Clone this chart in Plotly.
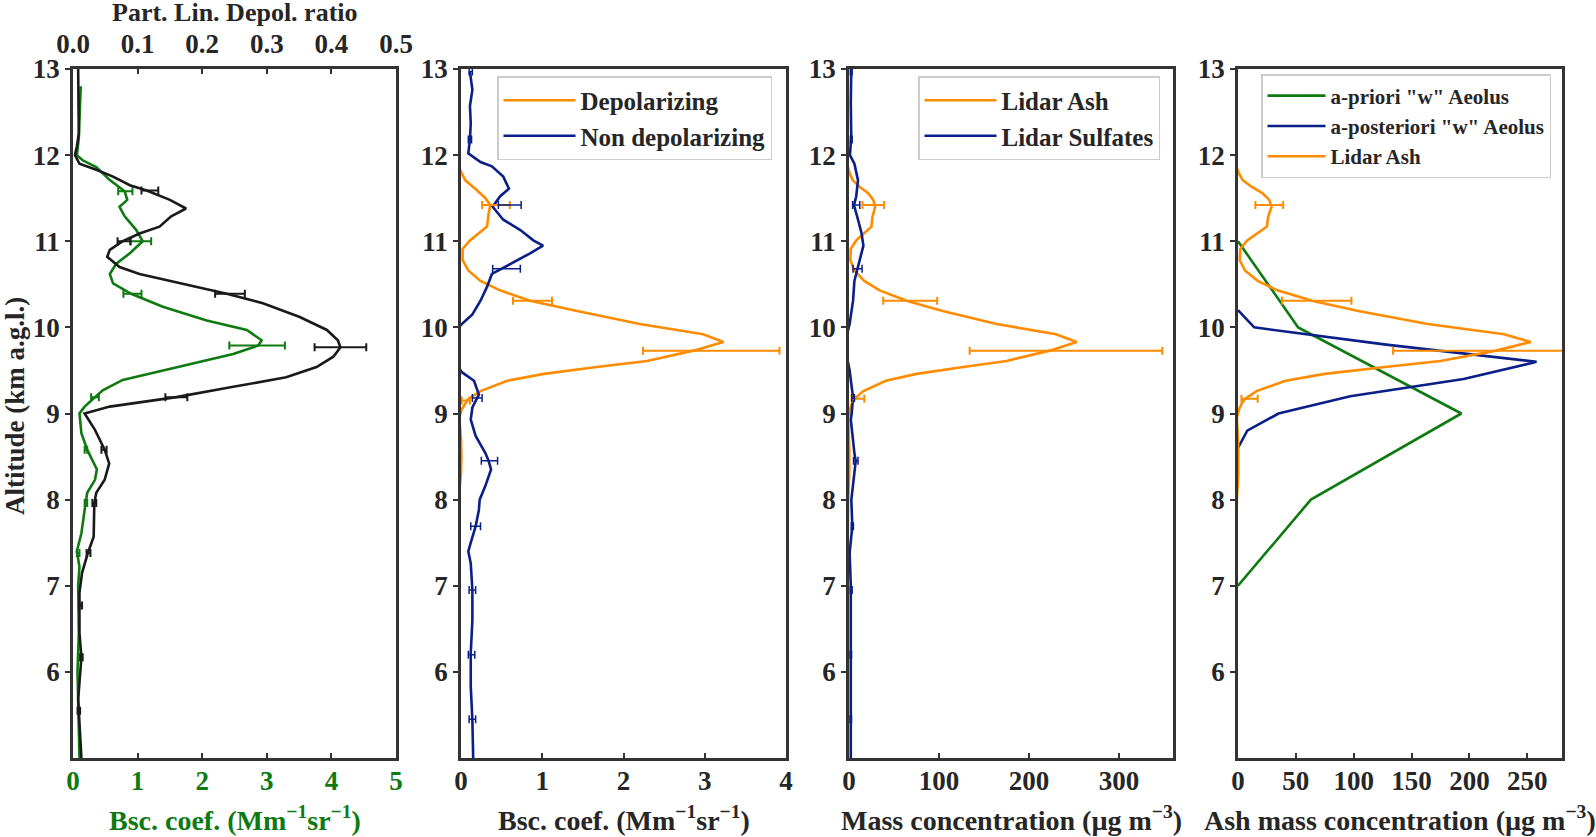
import plotly.graph_objects as go

# ---- panel 1: backscatter (green, bottom axis) and depol ratio (black, top axis)
bsc_alt = [12.8, 12.5, 12.2, 12.0, 11.94, 11.86, 11.71, 11.58, 11.48, 11.4, 11.29, 11.13, 11.0,
           10.86, 10.74, 10.62, 10.51, 10.39, 10.24, 10.08, 9.97, 9.85, 9.79, 9.69, 9.58, 9.46,
           9.39, 9.27, 9.19, 9.08, 9.0, 8.77, 8.58, 8.35, 8.23, 8.08, 7.88, 7.61, 7.4, 7.22, 7.0,
           6.45, 6.0, 5.48, 5.0]
bsc_val = [0.12, 0.1, 0.09, 0.06, 0.15, 0.36, 0.57, 0.8, 0.84, 0.72, 0.8, 0.98, 1.08,
           0.88, 0.67, 0.57, 0.62, 0.9, 1.39, 2.07, 2.69, 2.92, 2.87, 2.48, 1.86, 1.19,
           0.77, 0.46, 0.34, 0.18, 0.1, 0.13, 0.22, 0.37, 0.34, 0.22, 0.18, 0.13, 0.06, 0.1, 0.08,
           0.09, 0.07, 0.09, 0.1]
bsc_err_alt = [11.58, 11.0, 10.39, 9.79, 9.19, 8.58, 7.96, 7.38]
bsc_err_val = [0.81, 1.05, 0.92, 2.85, 0.34, 0.2, 0.2, 0.08]
bsc_err = [0.11, 0.16, 0.14, 0.43, 0.06, 0.02, 0.02, 0.02]

pldr_alt = [13.0, 12.64, 12.25, 12.1, 12.0, 11.9, 11.83, 11.75, 11.65, 11.59, 11.48, 11.38, 11.29,
            11.17, 11.09, 11.0, 10.9, 10.82, 10.7, 10.62, 10.51, 10.39, 10.28, 10.12, 9.97, 9.85,
            9.77, 9.66, 9.54, 9.42, 9.31, 9.19, 9.08, 9.0, 8.81, 8.58, 8.42, 8.23, 8.08, 7.96,
            7.57, 7.38, 7.15, 6.92, 6.45, 6.17, 5.68, 5.0]
pldr_val = [0.008, 0.009, 0.009, 0.006, 0.003, 0.01, 0.036, 0.062, 0.088, 0.114, 0.15, 0.175, 0.152,
            0.134, 0.103, 0.077, 0.057, 0.053, 0.072, 0.103, 0.17, 0.238, 0.294, 0.351, 0.393, 0.41,
            0.414, 0.403, 0.377, 0.33, 0.248, 0.16, 0.057, 0.018, 0.034, 0.049, 0.056, 0.049, 0.036,
            0.033, 0.032, 0.023, 0.014, 0.01, 0.01, 0.013, 0.008, 0.013]
pldr_err_alt = [11.59, 11.0, 10.39, 9.77, 9.19, 8.58, 7.96, 7.38, 6.77, 6.17, 5.55]
pldr_err_val = [0.119, 0.079, 0.243, 0.414, 0.16, 0.048, 0.033, 0.024, 0.012, 0.013, 0.009]
pldr_err = [0.013, 0.01, 0.023, 0.04, 0.017, 0.004, 0.003, 0.003, 0.002, 0.002, 0.002]

# ---- panel 2: depolarizing / non depolarizing backscatter
dep_alt = [13.0, 12.0, 11.85, 11.79, 11.71, 11.59, 11.5, 11.42, 11.32, 11.17, 11.01, 10.91, 10.78,
           10.66, 10.54, 10.43, 10.31, 10.19, 10.04, 9.92, 9.83, 9.73, 9.61, 9.54, 9.46, 9.38,
           9.26, 9.17, 9.05, 8.95, 8.7, 8.5, 8.3, 8.1, 5.0]
dep_val = [-0.05, -0.05, -0.02, 0.01, 0.05, 0.2, 0.3, 0.36, 0.34, 0.32, 0.11, 0.02, 0.02,
           0.09, 0.24, 0.48, 0.85, 1.43, 2.2, 2.98, 3.23, 2.86, 2.29, 1.67, 1.02, 0.57,
           0.24, 0.09, 0.01, -0.02, 0.0, 0.005, 0.0, -0.02, -0.05]
dep_err_alt = [11.42, 10.31, 9.73, 9.15]
dep_err_val = [0.43, 0.88, 3.08, 0.06]
dep_err = [0.17, 0.24, 0.84, 0.05]

non_alt = [12.97, 12.76, 12.57, 12.37, 12.18, 12.02, 11.92, 11.87, 11.75, 11.61, 11.52, 11.4, 11.25,
           11.13, 11.01, 10.95, 10.86, 10.76, 10.62, 10.47, 10.31, 10.15, 10.04, 9.8, 9.48, 9.38,
           9.22, 9.07, 8.93, 8.74, 8.54, 8.45, 8.35, 8.16, 8.0, 7.88, 7.69, 7.5, 7.4, 7.26, 6.95,
           6.6, 6.22, 5.83, 5.44, 5.0]
non_val = [0.11, 0.14, 0.11, 0.12, 0.11, 0.09, 0.24, 0.38, 0.52, 0.59, 0.48, 0.39, 0.52,
           0.73, 0.89, 1.01, 0.85, 0.65, 0.38, 0.32, 0.24, 0.14, 0.01, -0.2, 0.01, 0.16,
           0.22, 0.14, 0.12, 0.18, 0.3, 0.34, 0.37, 0.3, 0.23, 0.22, 0.18, 0.12, 0.09, 0.12, 0.14,
           0.14, 0.12, 0.12, 0.14, 0.15]
non_err_alt = [12.97, 12.18, 11.42, 10.68, 9.18, 8.45, 7.69, 6.95, 6.2, 5.45]
non_err_val = [0.12, 0.11, 0.6, 0.56, 0.2, 0.35, 0.18, 0.14, 0.13, 0.14]
non_err = [0.02, 0.02, 0.14, 0.17, 0.06, 0.1, 0.06, 0.04, 0.04, 0.04]

# ---- panel 3 / 4: lidar mass concentrations
ash_alt = [13.0, 12.0, 11.85, 11.79, 11.71, 11.63, 11.56, 11.48, 11.4, 11.28, 11.17, 11.09, 11.01,
           10.91, 10.78, 10.66, 10.54, 10.43, 10.31, 10.19, 10.04, 9.92, 9.83, 9.73, 9.61, 9.54,
           9.46, 9.38, 9.26, 9.17, 9.11, 9.05, 8.95, 8.6, 8.3, 8.0, 5.0]
ash_val = [-3, -3, -1, 0.7, 4, 12, 21, 27, 29, 26, 25, 17, 8,
           2, 1.5, 6, 17, 34, 64, 104, 164, 230, 253, 223, 175, 127,
           75, 41, 16, 6, 3, 1, -1, 0.3, 0.3, -1, -3]
ash_err_alt = [11.42, 10.31, 9.73, 9.17]
ash_err_val = [27, 68, 241, 10]
ash_err = [12, 30, 107, 7]

sulf_alt = [13.0, 12.6, 12.2, 12.0, 11.9, 11.71, 11.52, 11.42, 11.25, 11.09, 10.95, 10.82, 10.68,
            10.54, 10.31, 10.04, 9.8, 9.5, 9.34, 9.19, 9.0, 8.93, 8.54, 8.45, 8.0, 7.69, 7.38,
            7.0, 6.0, 5.0]
sulf_val = [2.5, 2.0, 2.5, 1, 6, 10, 8, 5.5, 10, 14, 16, 13, 9,
            6, 4.5, 0.7, -5, 0.7, 2.6, 4.5, 3, 2, 6, 7.5, 2.6, 3.7, 0.7,
            2, 2, 2]
sulf_err_alt = [12.97, 12.18, 11.42, 10.68, 9.18, 8.45, 7.69, 6.95, 6.2, 5.45]
sulf_err_val = [2.5, 2.5, 8, 9.5, 4.5, 7.5, 3.7, 2.5, 2, 2]
sulf_err = [1, 1, 4, 5, 1.5, 2.5, 1.2, 1, 0.8, 0.8]

# ---- panel 4: Aeolus "w" profiles
apriori_alt = [11, 10, 9, 8, 7]
apriori_val = [0, 52, 193, 63, 0]
apost_alt = [10.2, 10.0, 9.8, 9.6, 9.4, 9.2, 9.0, 8.8, 8.6]
apost_val = [0, 14, 128, 258, 195, 97, 35, 8, 0]

alt_ticks = [6, 7, 8, 9, 10, 11, 12, 13]

GREEN = "#0f7a12"
BLACK = "#1a1a1a"
ORANGE = "#ff8c00"
BLUE = "#0a1f87"
AXIS = "#333333"
TXT = "#262626"
FONT = "Liberation Serif"

W, H = 1596, 837
ML, MR, MT, MB = 73, 34, 69, 79
pw = W - ML - MR
ph = H - MT - MB
# panel edges in pixels
edges = [(73, 396), (461, 786), (849, 1173), (1238, 1562)]
doms = [[(a - ML) / pw, (b - ML) / pw] for a, b in edges]


def px_x(p):
    return (p - ML) / pw


def px_y(p):
    return (H - MB - p) / ph


def line(x, y, color, name, xa, ya, legend=None, width=2.6):
    return go.Scatter(x=x, y=y, mode="lines", name=name, xaxis=xa, yaxis=ya,
                      line=dict(color=color, width=width),
                      showlegend=legend is not None, legend=legend or "legend")


def errs(x, y, e, color, xa, ya, thick=2):
    return go.Scatter(x=x, y=y, mode="markers", xaxis=xa, yaxis=ya, showlegend=False,
                      marker=dict(size=2, color=color, opacity=0),
                      hoverinfo="skip",
                      error_x=dict(type="data", array=e, color=color, thickness=thick, width=4))


fig = go.Figure()
fig.add_trace(line(bsc_val, bsc_alt, GREEN, "bsc", "x", "y"))
fig.add_trace(errs(bsc_err_val, bsc_err_alt, bsc_err, GREEN, "x", "y"))
fig.add_trace(line(pldr_val, pldr_alt, BLACK, "pldr", "x5", "y"))
fig.add_trace(errs(pldr_err_val, pldr_err_alt, pldr_err, BLACK, "x5", "y"))

fig.add_trace(line(dep_val, dep_alt, ORANGE, "Depolarizing", "x2", "y2", "legend2"))
fig.add_trace(line(non_val, non_alt, BLUE, "Non depolarizing", "x2", "y2", "legend2"))
fig.add_trace(errs(dep_err_val, dep_err_alt, dep_err, ORANGE, "x2", "y2"))
fig.add_trace(errs(non_err_val, non_err_alt, non_err, BLUE, "x2", "y2", 1.5))

fig.add_trace(line(ash_val, ash_alt, ORANGE, "Lidar Ash", "x3", "y3", "legend3"))
fig.add_trace(line(sulf_val, sulf_alt, BLUE, "Lidar Sulfates", "x3", "y3", "legend3"))
fig.add_trace(errs(ash_err_val, ash_err_alt, ash_err, ORANGE, "x3", "y3"))
fig.add_trace(errs(sulf_err_val, sulf_err_alt, sulf_err, BLUE, "x3", "y3", 1.5))

fig.add_trace(line(apriori_val, apriori_alt, GREEN, 'a-priori "w" Aeolus', "x4", "y4", "legend4"))
fig.add_trace(line(apost_val, apost_alt, BLUE, 'a-posteriori "w" Aeolus', "x4", "y4", "legend4"))
fig.add_trace(line(ash_val, ash_alt, ORANGE, "Lidar Ash", "x4", "y4", "legend4"))
fig.add_trace(errs(ash_err_val, ash_err_alt, ash_err, ORANGE, "x4", "y4"))

axis_common = dict(showgrid=False, zeroline=False, showline=True, linecolor=AXIS, linewidth=2.5,
                   ticks="outside", ticklen=5, tickwidth=2, tickcolor=AXIS, automargin=False,
                   tickfont=dict(family=FONT, size=27, color=TXT, weight="bold"))
title_font = dict(family=FONT, size=28, color=TXT, weight="bold")
bsc_title = "Bsc. coef. (Mm<sup>\u22121</sup>sr<sup>\u22121</sup>)"
x_specs = [
    dict(range=[0, 5], dtick=1, title=bsc_title, green=True),
    dict(range=[0, 4], dtick=1, title=bsc_title),
    dict(range=[0, 360], tickvals=[0, 100, 200, 300], title="Mass concentration (\u00b5g m<sup>\u22123</sup>)"),
    dict(range=[0, 280], tickvals=[0, 50, 100, 150, 200, 250], title="Ash mass concentration (\u00b5g m<sup>\u22123</sup>)"),
]
layout = {}
annotations = []
for i, spec in enumerate(x_specs):
    n = "" if i == 0 else str(i + 1)
    color = GREEN if spec.get("green") else TXT
    xa = dict(axis_common, domain=doms[i], anchor="y" + n, range=spec["range"], mirror=True,
              ticks="inside", ticklabelstandoff=-3)
    xa["tickfont"] = dict(axis_common["tickfont"], color=color)
    if "dtick" in spec:
        xa["dtick"] = spec["dtick"]
    else:
        xa["tickvals"] = spec["tickvals"]
    layout["xaxis" + n] = xa
    layout["yaxis" + n] = dict(axis_common, domain=[0, 1], anchor="x" + n, range=[5, 13],
                               tickvals=alt_ticks, mirror=True)
    annotations.append(dict(text=spec["title"], xref="paper", yref="paper",
                            x=sum(doms[i]) / 2, y=px_y(819), xanchor="center", yanchor="middle",
                            showarrow=False, font=dict(title_font, color=color)))

layout["xaxis5"] = dict(axis_common, overlaying="x", anchor="y", side="top", range=[0, 0.5],
                        tickvals=[0, 0.1, 0.2, 0.3, 0.4, 0.5], tickformat=".1f", ticks="inside",
                        ticklabelstandoff=2)

annotations.append(dict(text="Part. Lin. Depol. ratio", xref="paper", yref="paper",
                        x=sum(doms[0]) / 2, y=px_y(13), xanchor="center", yanchor="middle",
                        showarrow=False, font=dict(title_font, size=26)))
annotations.append(dict(text="Altitude (km a.g.l.)", xref="paper", yref="paper", textangle=-90,
                        x=px_x(15), y=px_y(406), xanchor="center", yanchor="middle",
                        showarrow=False, font=dict(title_font, size=27)))

legend_common = dict(xanchor="right", yanchor="top", bgcolor="rgba(255,255,255,0.85)",
                     bordercolor="#cccccc", borderwidth=1.5, tracegroupgap=0)

fig.update_layout(
    width=W, height=H,
    margin=dict(l=ML, r=MR, t=MT, b=MB),
    plot_bgcolor="white", paper_bgcolor="white",
    font=dict(family=FONT, color=TXT),
    annotations=annotations,
    legend2=dict(legend_common, x=px_x(772), y=px_y(76), itemwidth=72,
                 font=dict(family=FONT, size=25, weight="bold", color=TXT)),
    legend3=dict(legend_common, x=px_x(1160), y=px_y(76), itemwidth=72,
                 font=dict(family=FONT, size=25, weight="bold", color=TXT)),
    legend4=dict(legend_common, x=px_x(1551), y=px_y(74), itemwidth=58,
                 font=dict(family=FONT, size=21, weight="bold", color=TXT)),
    **layout,
)

# the page body has a default 8px margin; drop it so the figure fills the window
fig.write_html("out.html", config={"displayModeBar": False},
               post_script="document.body.style.margin = '0px';")
